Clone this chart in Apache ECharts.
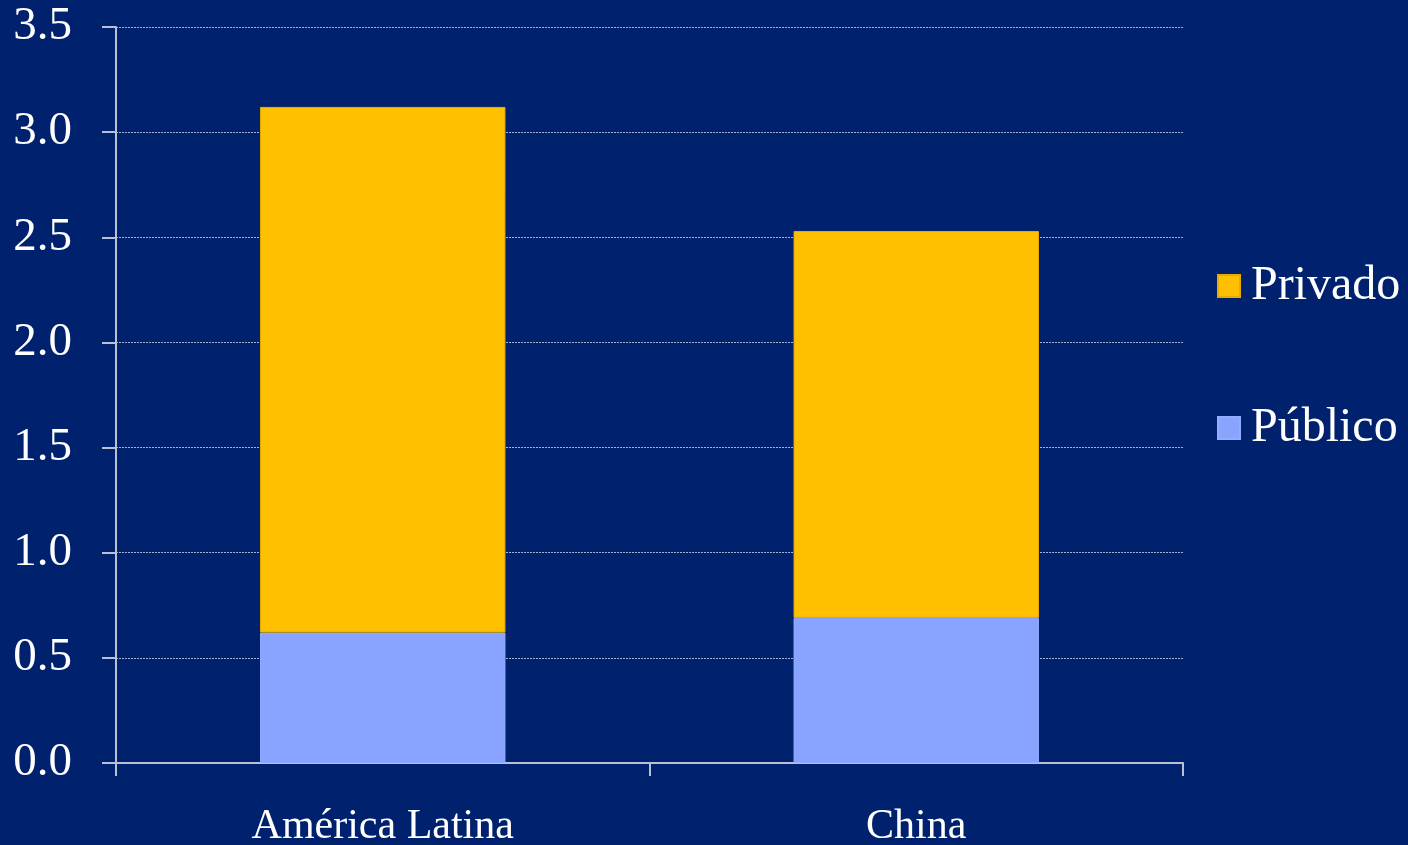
<!DOCTYPE html>
<html>
<head>
<meta charset="utf-8">
<script src="https://cdn.jsdelivr.net/npm/echarts@6/dist/echarts.min.js"></script>
<style>
html,body{margin:0;padding:0;background:#00226e;}
#chart{width:1408px;height:845px;}
</style>
</head>
<body>
<div id="chart"></div>
<script>
const categories = ['América Latina', 'China'];
const publico = [0.62, 0.69];
const privado = [2.50, 1.84];
const yTicks = { min: 0, max: 3.5, interval: 0.5 };

const chart = echarts.init(document.getElementById('chart'));
const font = '"Liberation Serif", "Times New Roman", serif';
chart.setOption({
  backgroundColor: '#00226e',
  animation: false,
  grid: { left: 116, right: 225, top: 27, bottom: 82, containLabel: false, outerBoundsMode: 'none' },
  legend: {
    orient: 'vertical',
    left: 1217,
    top: 262,
    padding: 0,
    itemWidth: 22,
    itemHeight: 22,
    itemGap: 94,
    icon: 'rect',
    data: ['Privado', 'Público'],
    textStyle: { color: '#ffffff', fontFamily: font, fontSize: 48, padding: [0, 0, 0, 6] }
  },
  xAxis: {
    type: 'category',
    data: categories,
    axisLine: { lineStyle: { color: '#b8c0d4', width: 2 } },
    axisTick: { show: true, length: 13, lineStyle: { color: '#b8c0d4', width: 2 } },
    axisLabel: { color: '#ffffff', fontFamily: font, fontSize: 42, margin: 43 }
  },
  yAxis: {
    type: 'value',
    min: yTicks.min, max: yTicks.max, interval: yTicks.interval,
    axisLine: { show: true, lineStyle: { color: '#b8c0d4', width: 2 } },
    axisTick: { show: true, length: 14, lineStyle: { color: '#b8c0d4', width: 2 } },
    axisLabel: { color: '#ffffff', fontFamily: font, fontSize: 47, margin: 44,
      formatter: v => v.toFixed(1) },
    splitLine: { show: true, lineStyle: { color: 'rgba(220,225,240,0.75)', type: [2, 1], width: 1 } }
  },
  series: [
    { name: 'Público', type: 'bar', stack: 'total', data: publico, barWidth: '46%',
      itemStyle: { color: '#88a4ff', borderColor: '#93acff', borderWidth: 1 } },
    { name: 'Privado', type: 'bar', stack: 'total', data: privado, barWidth: '46%',
      itemStyle: { color: '#ffc000', borderColor: '#e6ad00', borderWidth: 1 } }
  ]
});
</script>
</body>
</html>
